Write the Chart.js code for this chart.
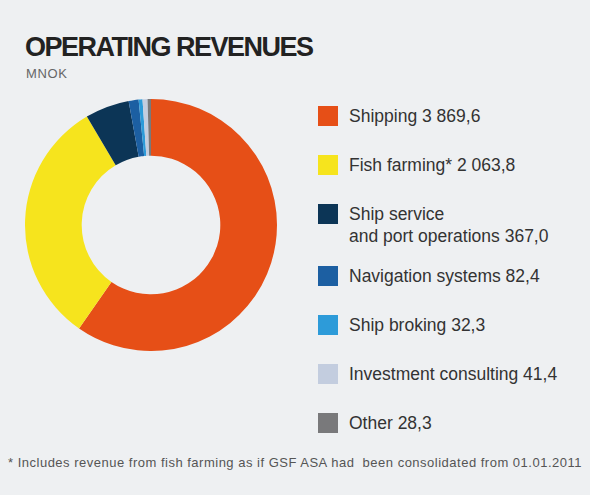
<!DOCTYPE html>
<html>
<head>
<meta charset="utf-8">
<script src="https://cdn.jsdelivr.net/npm/chart.js@4.4.0/dist/chart.umd.min.js"></script>
<style>
  html, body { margin: 0; padding: 0; }
  body { width: 590px; height: 495px; background: #eef0f2; position: relative; overflow: hidden;
         font-family: "Liberation Sans", Arial, sans-serif; color: #333; }
  #title { position: absolute; left: 25px; top: 31px; font-size: 27px; font-weight: bold;
           letter-spacing: -1.5px; color: #222; line-height: 32px; }
  #unit { position: absolute; left: 26px; top: 66px; font-size: 13px; color: #666; letter-spacing: 0.6px; }
  #donut { position: absolute; left: 25px; top: 99px; width: 252px; height: 252px; }
  .item { position: absolute; left: 318px; }
  .item .box { position: absolute; left: 0; top: 0; width: 20px; height: 20px; }
  .item .txt { position: absolute; left: 31px; top: -1px; font-size: 17.5px; line-height: 22px; white-space: pre; }
  #note { position: absolute; left: 8px; top: 455px; font-size: 13px; letter-spacing: 0.5px; color: #555; white-space: pre; }
</style>
</head>
<body>
<div id="title">OPERATING REVENUES</div>
<div id="unit">MNOK</div>
<div id="donut"><canvas id="chart"></canvas></div>
<div id="legend"></div>
<div id="note">* Includes revenue from fish farming as if GSF ASA had  been consolidated from 01.01.2011</div>
<script>
const categories = ['Shipping', 'Fish farming*', 'Ship service\nand port operations', 'Navigation systems',
                    'Ship broking', 'Investment consulting', 'Other'];
const revenues = [3869.6, 2063.8, 367.0, 82.4, 32.3, 41.4, 28.3];
const colors = ['#e64f17', '#f6e41d', '#0c3556', '#1c5fa2', '#2d9bd9', '#c3cddf', '#79797b'];

// 3869.6 -> "3 869,6"
function fmt(v) {
    let [int, dec] = v.toFixed(1).split('.');
    int = int.replace(/\B(?=(\d{3})+(?!\d))/g, ' ');
    return int + ',' + dec;
}

let chart = new Chart('chart', {
    type: 'doughnut',
    data: {
        labels: categories,
        datasets: [{ data: revenues, backgroundColor: colors, borderWidth: 0 }]
    },
    options: {
        responsive: true,
        maintainAspectRatio: false,
        animation: false,
        cutout: '55%',
        layout: { padding: 0 },
        plugins: { legend: { display: false }, tooltip: { enabled: false } }
    }
});

// legend on the right, built from the chart's own data
const legend = document.getElementById('legend');
chart.data.labels.forEach((label, i) => {
    const item = document.createElement('div');
    item.className = 'item';
    item.style.top = (106 + i * 49 + (i > 2 ? 13 : 0)) + 'px';
    const box = document.createElement('div');
    box.className = 'box';
    box.style.background = chart.data.datasets[0].backgroundColor[i];
    const txt = document.createElement('div');
    txt.className = 'txt';
    txt.textContent = label + ' ' + fmt(chart.data.datasets[0].data[i]);
    item.appendChild(box);
    item.appendChild(txt);
    legend.appendChild(item);
});
</script>
</body>
</html>
